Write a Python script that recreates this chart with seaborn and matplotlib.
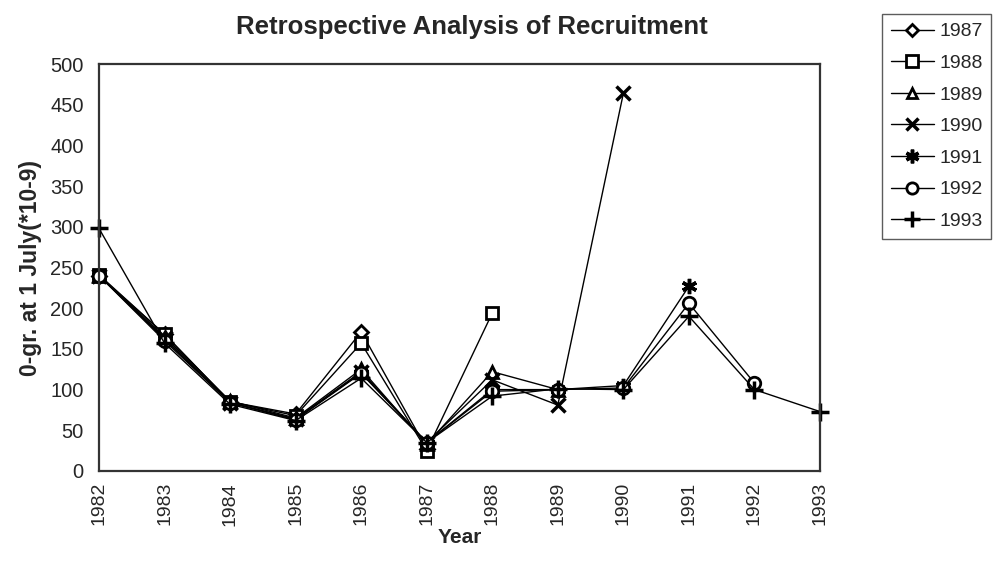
import numpy as np
import pandas as pd
import matplotlib
matplotlib.use("Agg")
import matplotlib.pyplot as plt
import seaborn as sns
from matplotlib.lines import Line2D

years = list(range(1982, 1994))
series_names = ["1987", "1988", "1989", "1990", "1991", "1992", "1993"]
s1987 = [240, 168, 85, 70, 171, 27]
s1988 = [241, 168, 85, 68, 157, 25, 194]
s1989 = [240, 165, 86, 65, 125, 33, 122, 100]
s1990 = [240, 163, 84, 64, 122, 35, 112, 81, 464]
s1991 = [240, 162, 84, 63, 121, 35, 100, 100, 105, 227]
s1992 = [240, 160, 84, 63, 120, 35, 98, 100, 102, 206, 108]
s1993 = [298, 157, 82, 62, 114, 35, 92, 101, 100, 190, 100, 73]
all_series = [s1987, s1988, s1989, s1990, s1991, s1992, s1993]

rows = []
for name, vals in zip(series_names, all_series):
    for y, v in zip(years, vals):
        rows.append({"Year": y, "value": v, "series": name})
df = pd.DataFrame(rows)

sns.set_theme(style="white")
plt.rcParams['font.family'] = ['Liberation Sans', 'DejaVu Sans']

fig = plt.figure(figsize=(9.95, 5.62), dpi=100)
ax = fig.add_axes([99/995, 1-471/562, (820-99)/995, (471-64)/562])

markers = {"1987": "D", "1988": "s", "1989": "^", "1990": "x",
           "1991": (6, 2, 0), "1992": "o", "1993": "+"}
msizes = {"1987": 7, "1988": 9, "1989": 8, "1990": 10,
          "1991": 11, "1992": 9, "1993": 13}
filled_set = ("1990", "1991", "1993")
for name in series_names:
    sub = df[df["series"] == name]
    filled = name in filled_set
    sns.lineplot(data=sub, x="Year", y="value", ax=ax, color="black",
                 linewidth=1.0, marker=markers[name], markersize=msizes[name],
                 markerfacecolor="white" if not filled else "black",
                 markeredgecolor="black",
                 markeredgewidth=2.0 if not filled else 2.5,
                 legend=False, estimator=None, clip_on=False)

ax.set_xlim(1982, 1993)
ax.set_ylim(0, 500)
ax.set_xticks(years)
ax.set_xticklabels([str(y) for y in years], rotation=90, fontsize=14)
ax.set_yticks(range(0, 501, 50))
ax.set_yticklabels([str(v) for v in range(0, 501, 50)], fontsize=14.5)
ax.tick_params(axis="both", direction="inout", length=8, width=1.2, color="black")
ax.tick_params(axis="y", pad=7)
ax.tick_params(axis="x", pad=4)
for sp in ax.spines.values():
    sp.set_color("#333333")
    sp.set_linewidth(1.6)
ax.set_xlabel("Year", fontsize=15, fontweight="bold", labelpad=2)
ax.set_ylabel("0-gr. at 1 July(*10-9)", fontsize=16.5, fontweight="bold", labelpad=6)
fig.text(472/995, 1-27/562, "Retrospective Analysis of Recruitment",
         ha="center", va="center", fontsize=18.5, fontweight="bold")

handles = []
for name in series_names:
    filled = name in filled_set
    handles.append(Line2D([0], [0], color="black", linewidth=1.0,
                          marker=markers[name], markersize=msizes[name] * 0.9,
                          markerfacecolor="white" if not filled else "black",
                          markeredgecolor="black",
                          markeredgewidth=2.0 if not filled else 2.5))
leg = fig.legend(handles, series_names, loc="upper left",
                 bbox_to_anchor=(882/995, 1-14/562), frameon=True,
                 fontsize=14, handlelength=2.2, handletextpad=0.3,
                 labelspacing=0.72, borderpad=0.45, fancybox=False,
                 borderaxespad=0)
leg.get_frame().set_edgecolor("#333333")
leg.get_frame().set_linewidth(1.0)

fig.savefig("out.png", dpi=100)
